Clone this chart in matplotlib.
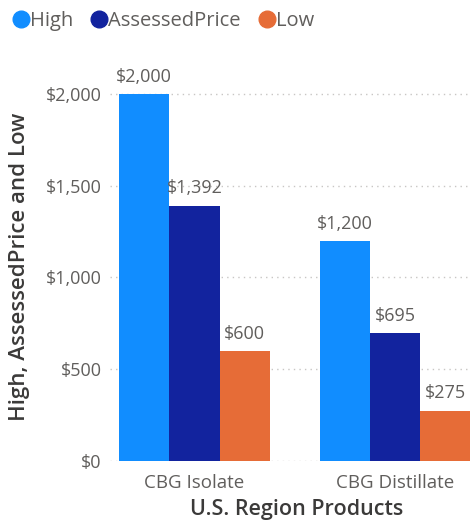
import matplotlib.pyplot as plt
from matplotlib.lines import Line2D
from matplotlib.ticker import FuncFormatter
import numpy as np

plt.rcParams['font.family'] = ['Open Sans', 'DejaVu Sans']

categories = ["CBG Isolate", "CBG Distillate"]
series = ["High", "AssessedPrice", "Low"]
high = [2000, 1200]
assessed = [1392, 695]
low = [600, 275]
colors = ["#118DFF", "#12239E", "#E66C37"]

tick_color = "#605E5C"
title_color = "#3B3A39"

fig = plt.figure(figsize=(4.72, 5.25), dpi=100)
ax = fig.add_axes([110 / 472, 1 - 461 / 525, 361 / 472, 401 / 525])

x = np.arange(len(categories))
width = 0.251
for i, (vals, col) in enumerate(zip([high, assessed, low], colors)):
    bars = ax.bar(x + (i - 1) * width, vals, width, color=col, zorder=3)
    for b, v in zip(bars, vals):
        ax.text(b.get_x() + b.get_width() / 2, v + 45, f"${v:,.0f}",
                ha="center", va="bottom", fontsize=13, color=tick_color)

ax.set_xlim(-0.4214, 1.379)
ax.set_ylim(0, 2185)
ax.set_yticks([0, 500, 1000, 1500, 2000])
ax.yaxis.set_major_formatter(FuncFormatter(lambda v, p: f"${v:,.0f}"))
ax.set_xticks(x)
ax.set_xticklabels(categories)
ax.tick_params(axis="both", length=0, labelsize=13, colors=tick_color)
ax.tick_params(axis="x", labelsize=13.5, pad=9)
ax.tick_params(axis="y", pad=6)
ax.grid(axis="y", color="#C8C6C4", linestyle=(0, (1, 3)), linewidth=1, zorder=0)
for s in ax.spines.values():
    s.set_visible(False)

ax.set_xlabel("U.S. Region Products", fontsize=15.5, color=title_color,
              fontweight="semibold")
ax.xaxis.set_label_coords(187 / 361, -38 / 401)
ax.set_ylabel("High, AssessedPrice and Low", fontsize=16, color=title_color,
              fontweight="semibold")
ax.yaxis.set_label_coords(-80 / 361, 0.484)

handles = [Line2D([], [], marker="o", linestyle="", markersize=12,
                  markerfacecolor=c, markeredgecolor=c) for c in colors]
fig.legend(handles, series, loc="upper left", bbox_to_anchor=(-0.012, 1.005),
           ncol=3, frameon=False, fontsize=14.5, handletextpad=-0.15,
           columnspacing=0.7, handlelength=1.2, labelcolor=tick_color,
           borderaxespad=0.3)

fig.savefig("out.png", dpi=100)
